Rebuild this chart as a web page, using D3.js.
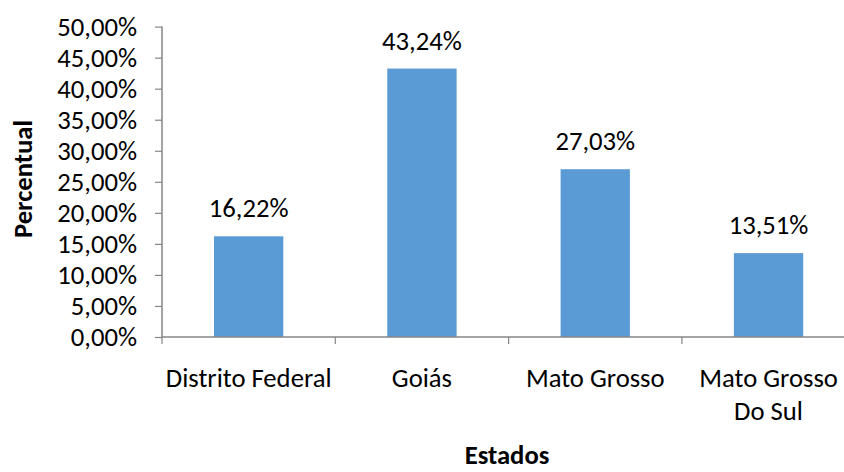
<!DOCTYPE html>
<html><head><meta charset="utf-8">
<script src="https://cdn.jsdelivr.net/npm/d3@7"></script>
<style>body{margin:0;background:#fff}svg{display:block}</style>
</head><body>
<script>
const categories = [["Distrito Federal"], ["Goiás"], ["Mato Grosso"], ["Mato Grosso", "Do Sul"]];
const values = [16.22, 43.24, 27.03, 13.51];
const valueLabels = ["16,22%", "43,24%", "27,03%", "13,51%"];
const yTicks = [0, 5, 10, 15, 20, 25, 30, 35, 40, 45, 50];
const xTitle = "Estados";
const yTitle = "Percentual";

const W = 844, H = 472;
const font = "Calibri, Carlito, Lato, sans-serif";
const fs = 26.67;
const svg = d3.select("body").append("svg").attr("width", W).attr("height", H);

const x0 = 162, y0 = 337, yTop = 26.6, step = 173.3;
const keys = categories.map((c, i) => i);
const x = d3.scaleBand().domain(keys).range([x0, x0 + step * 4]).padding(0);
const y = d3.scaleLinear().domain([0, 50]).range([y0, yTop]);
const axisColor = "#868686";

const bw = x.bandwidth() * 0.4;
svg.selectAll("rect.bar").data(values).enter().append("rect")
  .attr("x", (d, i) => x(i) + (x.bandwidth() - bw) / 2)
  .attr("y", d => y(d)).attr("width", bw)
  .attr("height", d => y(0) - y(d)).attr("fill", "#5B9BD5");

const ya = svg.append("g").attr("transform", `translate(${x0},0)`)
  .call(d3.axisLeft(y).tickValues(yTicks).tickSize(7).tickPadding(18)
    .tickFormat(d => d.toFixed(2).replace(".", ",") + "%"));
ya.select(".domain").attr("stroke", axisColor).attr("stroke-width", 1.5).attr("d", `M0,${yTop}V${y0}`);
ya.selectAll(".tick line").attr("stroke", axisColor).attr("stroke-width", 1.2);
ya.selectAll(".tick text").attr("font-family", font).attr("font-size", fs).attr("fill", "#000");

svg.append("line").attr("x1", x0).attr("x2", W).attr("y1", y0).attr("y2", y0)
  .attr("stroke", axisColor).attr("stroke-width", 1.5);
svg.selectAll("line.xt").data(keys).enter().append("line")
  .attr("x1", d => x(d)).attr("x2", d => x(d)).attr("y1", y0).attr("y2", y0 + 7)
  .attr("stroke", axisColor).attr("stroke-width", 1.2);

svg.selectAll("text.cat").data(categories).enter().append("text")
  .attr("text-anchor", "middle")
  .attr("font-family", font).attr("font-size", fs).attr("fill", "#000")
  .each(function (lines, i) {
    const t = d3.select(this);
    lines.forEach((l, j) => {
      t.append("tspan").attr("x", x(i) + x.bandwidth() / 2).attr("y", 387 + j * 33).text(l);
    });
  });

svg.selectAll("text.val").data(values).enter().append("text")
  .attr("x", (d, i) => x(i) + x.bandwidth() / 2)
  .attr("y", d => y(d) - 19).attr("text-anchor", "middle")
  .attr("font-family", font).attr("font-size", fs).attr("fill", "#000")
  .text((d, i) => valueLabels[i]);

svg.append("text").attr("x", 507).attr("y", 464).attr("text-anchor", "middle")
  .attr("font-family", font).attr("font-size", fs).attr("font-weight", "bold").attr("fill", "#000")
  .text(xTitle);
svg.append("text").attr("transform", "translate(32,179) rotate(-90)").attr("text-anchor", "middle")
  .attr("font-family", font).attr("font-size", fs).attr("font-weight", "bold").attr("fill", "#000")
  .text(yTitle);
</script>
</body></html>
